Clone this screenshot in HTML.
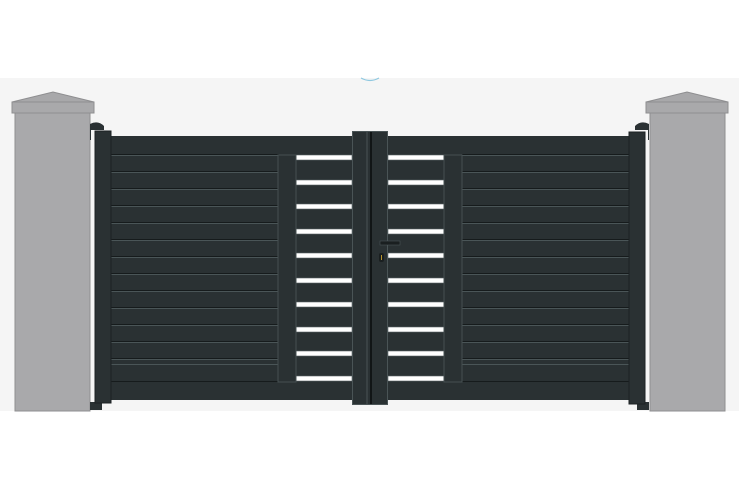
<!DOCTYPE html>
<html><head><meta charset="utf-8"><style>html,body{margin:0;padding:0;background:#fff;}svg{display:block}</style></head>
<body>
<svg width="739" height="491" viewBox="0 0 739 491" xmlns="http://www.w3.org/2000/svg">
<rect x="0" y="78" width="739" height="333" fill="#f5f5f5"/>
<path d="M361,78 q9,5 18,0" fill="none" stroke="#8fc8e0" stroke-width="1.2"/>
<!-- left pillar -->
<polygon points="12,102 53,92 94,102" fill="#a8a8aa" stroke="#8e8e90"/>
<rect x="12" y="102" width="82" height="11" fill="#a9a9ab" stroke="#8e8e90"/>
<rect x="15" y="113" width="75" height="298" fill="#a9a9ab" stroke="#8e8e90"/>
<!-- right pillar -->
<polygon points="646,102 687,92 728,102" fill="#a8a8aa" stroke="#8e8e90"/>
<rect x="646" y="102" width="82" height="11" fill="#a9a9ab" stroke="#8e8e90"/>
<rect x="650" y="113" width="75" height="298" fill="#a9a9ab" stroke="#8e8e90"/>
<!-- hinges -->
<path d="M90,124 q8,-4 14,2 v4 h-13 v10 h-1z" fill="#2a3133"/>
<path d="M649,124 q-8,-4 -14,2 v4 h13 v10 h1z" fill="#2a3133"/>
<rect x="90" y="402" width="12" height="8" fill="#2a3133"/>
<rect x="637" y="402" width="12" height="8" fill="#2a3133"/>
<!-- panels -->
<rect x="111" y="136" width="520" height="264" fill="#2a3133"/>
<g stroke="#161b1c" stroke-width="1">
<line x1="111" y1="154.5" x2="279" y2="154.5"/><line x1="111" y1="171.5" x2="279" y2="171.5"/><line x1="111" y1="188.5" x2="279" y2="188.5"/><line x1="111" y1="205.5" x2="279" y2="205.5"/><line x1="111" y1="222.5" x2="279" y2="222.5"/><line x1="111" y1="239.5" x2="279" y2="239.5"/><line x1="111" y1="256.5" x2="279" y2="256.5"/><line x1="111" y1="273.5" x2="279" y2="273.5"/><line x1="111" y1="290.5" x2="279" y2="290.5"/><line x1="111" y1="307.5" x2="279" y2="307.5"/><line x1="111" y1="324.5" x2="279" y2="324.5"/><line x1="111" y1="341.5" x2="279" y2="341.5"/><line x1="111" y1="358.5" x2="279" y2="358.5"/><line x1="111" y1="381.5" x2="279" y2="381.5"/>
<line x1="462" y1="154.5" x2="630" y2="154.5"/><line x1="462" y1="171.5" x2="630" y2="171.5"/><line x1="462" y1="188.5" x2="630" y2="188.5"/><line x1="462" y1="205.5" x2="630" y2="205.5"/><line x1="462" y1="222.5" x2="630" y2="222.5"/><line x1="462" y1="239.5" x2="630" y2="239.5"/><line x1="462" y1="256.5" x2="630" y2="256.5"/><line x1="462" y1="273.5" x2="630" y2="273.5"/><line x1="462" y1="290.5" x2="630" y2="290.5"/><line x1="462" y1="307.5" x2="630" y2="307.5"/><line x1="462" y1="324.5" x2="630" y2="324.5"/><line x1="462" y1="341.5" x2="630" y2="341.5"/><line x1="462" y1="358.5" x2="630" y2="358.5"/><line x1="462" y1="381.5" x2="630" y2="381.5"/>
</g>
<g stroke="#4a5557" stroke-width="1">
<line x1="111" y1="155.5" x2="279" y2="155.5"/><line x1="111" y1="172.5" x2="279" y2="172.5"/><line x1="111" y1="189.5" x2="279" y2="189.5"/><line x1="111" y1="206.5" x2="279" y2="206.5"/><line x1="111" y1="223.5" x2="279" y2="223.5"/><line x1="111" y1="240.5" x2="279" y2="240.5"/><line x1="111" y1="257.5" x2="279" y2="257.5"/><line x1="111" y1="274.5" x2="279" y2="274.5"/><line x1="111" y1="291.5" x2="279" y2="291.5"/><line x1="111" y1="308.5" x2="279" y2="308.5"/><line x1="111" y1="325.5" x2="279" y2="325.5"/><line x1="111" y1="342.5" x2="279" y2="342.5"/><line x1="111" y1="359.5" x2="279" y2="359.5"/><line x1="111" y1="364.5" x2="279" y2="364.5"/>
<line x1="462" y1="155.5" x2="630" y2="155.5"/><line x1="462" y1="172.5" x2="630" y2="172.5"/><line x1="462" y1="189.5" x2="630" y2="189.5"/><line x1="462" y1="206.5" x2="630" y2="206.5"/><line x1="462" y1="223.5" x2="630" y2="223.5"/><line x1="462" y1="240.5" x2="630" y2="240.5"/><line x1="462" y1="257.5" x2="630" y2="257.5"/><line x1="462" y1="274.5" x2="630" y2="274.5"/><line x1="462" y1="291.5" x2="630" y2="291.5"/><line x1="462" y1="308.5" x2="630" y2="308.5"/><line x1="462" y1="325.5" x2="630" y2="325.5"/><line x1="462" y1="342.5" x2="630" y2="342.5"/><line x1="462" y1="359.5" x2="630" y2="359.5"/><line x1="462" y1="364.5" x2="630" y2="364.5"/>
</g>
<!-- white bars -->
<g fill="#ffffff" stroke="#5a6466" stroke-width="0.6">
<rect x="296" y="155" width="56" height="5"/><rect x="388" y="155" width="56" height="5"/>
<rect x="296" y="180" width="56" height="5"/><rect x="388" y="180" width="56" height="5"/>
<rect x="296" y="204" width="56" height="5"/><rect x="388" y="204" width="56" height="5"/>
<rect x="296" y="229" width="56" height="5"/><rect x="388" y="229" width="56" height="5"/>
<rect x="296" y="253" width="56" height="5"/><rect x="388" y="253" width="56" height="5"/>
<rect x="296" y="278" width="56" height="5"/><rect x="388" y="278" width="56" height="5"/>
<rect x="296" y="302" width="56" height="5"/><rect x="388" y="302" width="56" height="5"/>
<rect x="296" y="327" width="56" height="5"/><rect x="388" y="327" width="56" height="5"/>
<rect x="296" y="351" width="56" height="5"/><rect x="388" y="351" width="56" height="5"/>
<rect x="296" y="376" width="56" height="5"/><rect x="388" y="376" width="56" height="5"/>
</g>
<!-- vertical stiles -->
<rect x="278" y="155" width="18" height="227" fill="#2a3133" stroke="#465052" stroke-width="1"/>
<rect x="444" y="155" width="18" height="227" fill="#2a3133" stroke="#465052" stroke-width="1"/>
<!-- center stile -->
<rect x="352.5" y="131.5" width="35" height="273" fill="#2a3133" stroke="#4a5456"/>
<line x1="367" y1="132" x2="367" y2="404" stroke="#4a5456"/>
<line x1="371" y1="132" x2="371" y2="404" stroke="#111516" stroke-width="2"/>
<!-- handle -->
<rect x="380" y="241" width="20" height="4" fill="#1a1f20" stroke="#4a5456" stroke-width="0.6"/>
<rect x="379" y="253" width="5" height="9" rx="2" fill="#1a1f20"/>
<rect x="381" y="255" width="1" height="5" fill="#b8942c"/>
<!-- posts -->
<rect x="95" y="131" width="16" height="272" fill="#2a3133" stroke="#1c2123"/>
<rect x="629" y="132" width="16" height="272" fill="#2a3133" stroke="#1c2123"/>
</svg>
</body></html>
